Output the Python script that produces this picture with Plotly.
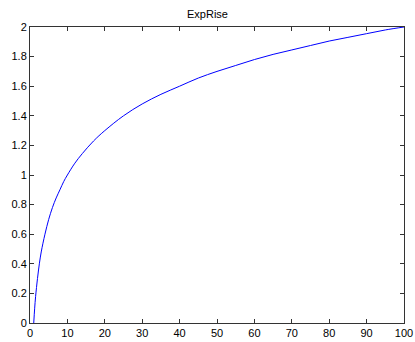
import plotly.graph_objects as go

# values
x_vals = [1, 1.25, 1.5, 2, 2.5, 3, 4, 5, 6, 7, 8, 9, 10, 12, 14, 17, 20,
          25, 30, 35, 40, 45, 50, 55, 60, 65, 70, 75, 80, 85, 90, 95, 100]
y_vals = [0, 0.10, 0.18, 0.30, 0.40, 0.48, 0.60, 0.70, 0.78, 0.845, 0.90, 0.955,
          1.00, 1.08, 1.145, 1.23, 1.30, 1.40, 1.48, 1.545, 1.60, 1.655, 1.70,
          1.74, 1.78, 1.815, 1.845, 1.875, 1.905, 1.93, 1.955, 1.98, 2.00]
x_ticks = [0, 10, 20, 30, 40, 50, 60, 70, 80, 90, 100]
y_ticks = [0, 0.2, 0.4, 0.6, 0.8, 1, 1.2, 1.4, 1.6, 1.8, 2]

fig = go.Figure(go.Scatter(
    x=x_vals, y=y_vals, mode="lines",
    line=dict(color="#0000ff", width=1, shape="spline"),
))

axis_style = dict(
    showline=True, linecolor="#333333", linewidth=1, mirror="ticks",
    ticks="inside", ticklen=4, tickcolor="#333333",
    showgrid=False, zeroline=False, automargin=False,
    tickfont=dict(family="Liberation Sans, Arial", size=11, color="black"),
)

fig.update_xaxes(range=[0, 100], tickvals=x_ticks, **axis_style)
fig.update_yaxes(range=[0, 2], tickvals=y_ticks,
                 ticktext=[f"{v:g}" for v in y_ticks], **axis_style)

fig.update_layout(
    width=415, height=342,
    margin=dict(l=30, r=11, t=27, b=19),
    paper_bgcolor="white", plot_bgcolor="white",
    showlegend=False,
    title=dict(text="ExpRise", x=0.5, xanchor="center", y=0.96, yanchor="middle",
               font=dict(family="Liberation Sans, Arial", size=11, color="black")),
)

# drop the default page margin so the figure sits at the window's corner
fig.write_html("out.html",
               config={"displayModeBar": False},
               post_script="document.body.style.margin='0';"
                           "document.body.style.overflow='hidden';")
